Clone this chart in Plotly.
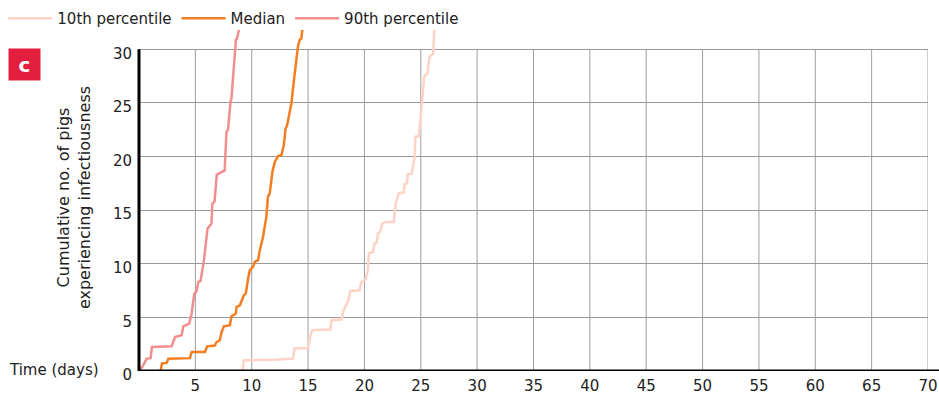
import plotly.graph_objects as go

# ---- data ----
p10_days = [9.18, 9.3, 12.05, 13.67, 13.8, 15.0, 15.15, 15.35, 16.98, 17.07, 17.95, 18.15, 18.54, 18.75, 19.57,
            19.72, 20.1, 20.3, 20.4, 20.75, 20.9, 21.1, 21.2, 21.4, 21.6, 21.9, 22.6, 22.77, 23.06, 23.5, 23.56,
            23.77, 23.85, 24.2, 24.45, 24.53, 24.84, 25.05, 25.3, 25.6, 25.77, 26.1, 26.2]
p10_pigs = [0.0, 1.0, 1.06, 1.16, 2.1, 2.15, 3.03, 3.8, 3.87, 4.73, 4.8, 5.67, 6.44, 7.47, 7.53, 8.3, 8.53, 9.4,
            10.96, 11.1, 11.9, 12.0, 12.83, 13.0, 13.76, 13.9, 13.9, 15.6, 16.56, 16.66, 17.4, 17.5, 18.36, 18.4,
            20.0, 21.85, 21.9, 24.65, 27.45, 27.77, 29.3, 29.6, 31.9]

median_days = [1.92, 2.04, 2.45, 2.6, 4.52, 4.67, 5.85, 6.05, 6.73, 6.88, 7.17, 7.33, 7.53, 8.06, 8.21, 8.6, 8.65,
               8.95, 9.3, 9.48, 9.68, 9.83, 10.12, 10.27, 10.57, 10.72, 11.0, 11.3, 11.44, 11.6, 11.84, 12.05,
               12.34, 12.64, 12.85, 13.0, 13.14, 13.52, 13.82, 14.1, 14.26, 14.4, 14.5]
median_pigs = [0.0, 0.7, 0.75, 1.15, 1.2, 1.77, 1.77, 2.3, 2.37, 2.7, 2.87, 3.64, 4.17, 4.27, 5.1, 5.36, 5.97,
               6.13, 7.07, 7.23, 8.63, 9.4, 9.71, 10.18, 10.34, 11.27, 12.5, 14.4, 16.25, 16.56, 18.6, 19.5,
               20.05, 20.14, 21.07, 22.6, 22.9, 24.97, 27.77, 30.25, 30.9, 31.0, 31.9]

p90_days = [0.0, 0.3, 0.68, 1.03, 1.15, 2.9, 3.19, 3.78, 3.93, 4.46, 4.67, 4.9, 5.1, 5.26, 5.46, 5.64, 5.76,
            6.08, 6.22, 6.43, 6.51, 6.7, 6.9, 7.6, 7.76, 7.9, 8.12, 8.2, 8.6, 8.7, 8.88]
p90_pigs = [0.0, 0.4, 1.16, 1.2, 2.24, 2.3, 3.17, 3.33, 4.17, 4.42, 5.36, 7.2, 7.4, 8.3, 8.4, 9.4, 10.3, 13.3,
            13.45, 13.76, 15.6, 15.8, 18.3, 18.7, 22.3, 22.5, 25.1, 25.4, 30.9, 31.0, 31.9]

series_names = ["10th percentile", "Median", "90th percentile"]
series_colors = ["#FDD3C6", "#F47D22", "#F38E8E"]

x_ticks = [5, 10, 15, 20, 25, 30, 35, 40, 45, 50, 55, 60, 65, 70]
y_ticks = [0, 5, 10, 15, 20, 25, 30]
x_max = 70
y_grid_max = 30
y_view_max = 31.8

FONT = "DejaVu Sans"
TXT = "#222222"

fig = go.Figure()
for name, xs, ys, col in zip(series_names,
                             [p10_days, median_days, p90_days],
                             [p10_pigs, median_pigs, p90_pigs],
                             series_colors):
    fig.add_trace(go.Scatter(x=xs, y=ys, mode="lines", name=name,
                             line=dict(color=col, width=2.5)))

shapes = []
# vertical gridlines (only up to 30)
for t in x_ticks:
    shapes.append(dict(type="line", xref="x", yref="y", x0=t, x1=t, y0=0, y1=y_grid_max,
                       line=dict(color="#9e9e9e", width=1), layer="below"))
# left axis line (0..30)
shapes.append(dict(type="line", xref="paper", yref="y", x0=0, x1=0, y0=0, y1=y_grid_max,
                   line=dict(color="black", width=3), layer="above"))
# bottom axis line, extending to the right edge
shapes.append(dict(type="line", xref="paper", yref="y", x0=0, x1=1.015, y0=0, y1=0,
                   line=dict(color="black", width=3), layer="above"))

fig.update_layout(
    width=939, height=396,
    margin=dict(l=139, r=11, t=30, b=25, autoexpand=False),
    paper_bgcolor="white", plot_bgcolor="white",
    font=dict(family=FONT, size=15, color=TXT),
    showlegend=True,
    legend=dict(orientation="h", x=-0.172, xanchor="left", y=1.034, yanchor="middle",
                font=dict(family=FONT, size=15, color=TXT), itemwidth=44,
                bgcolor="rgba(0,0,0,0)"),
    xaxis=dict(range=[0, x_max], tickvals=x_ticks, showgrid=False, zeroline=False,
               showline=False, ticks="", tickfont=dict(family=FONT, size=15, color=TXT),
               ticklabelstandoff=4, fixedrange=True, automargin=False),
    yaxis=dict(range=[0, y_view_max], tickvals=y_ticks, showgrid=True, gridcolor="#999999",
               gridwidth=1, zeroline=False, showline=False, ticks="",
               tickfont=dict(family=FONT, size=15, color=TXT), ticklabelstandoff=6,
               ticklabelshift=4, fixedrange=True, automargin=False),
    shapes=shapes,
    annotations=[
        dict(text="Cumulative no. of pigs<br>experiencing infectiousness", textangle=-90,
             xref="paper", yref="paper", x=-0.0824, y=0.51, xanchor="center", yanchor="middle",
             showarrow=False, font=dict(family=FONT, size=16, color=TXT)),
        dict(text="Time (days)", xref="paper", yref="paper", x=-0.1077, y=0.003,
             xanchor="center", yanchor="middle", showarrow=False,
             font=dict(family=FONT, size=15, color=TXT)),
        dict(text="<b>c</b>", xref="paper", yref="paper", x=-0.1451, y=0.898,
             xanchor="center", yanchor="middle", showarrow=False, width=31, height=31,
             bgcolor="#E41E3F", borderpad=0, font=dict(family=FONT, size=20, color="white")),
    ],
)

fig.write_html("out.html",
               config={"displayModeBar": False},
               post_script="document.body.style.margin='0';document.body.style.overflow='hidden';")
